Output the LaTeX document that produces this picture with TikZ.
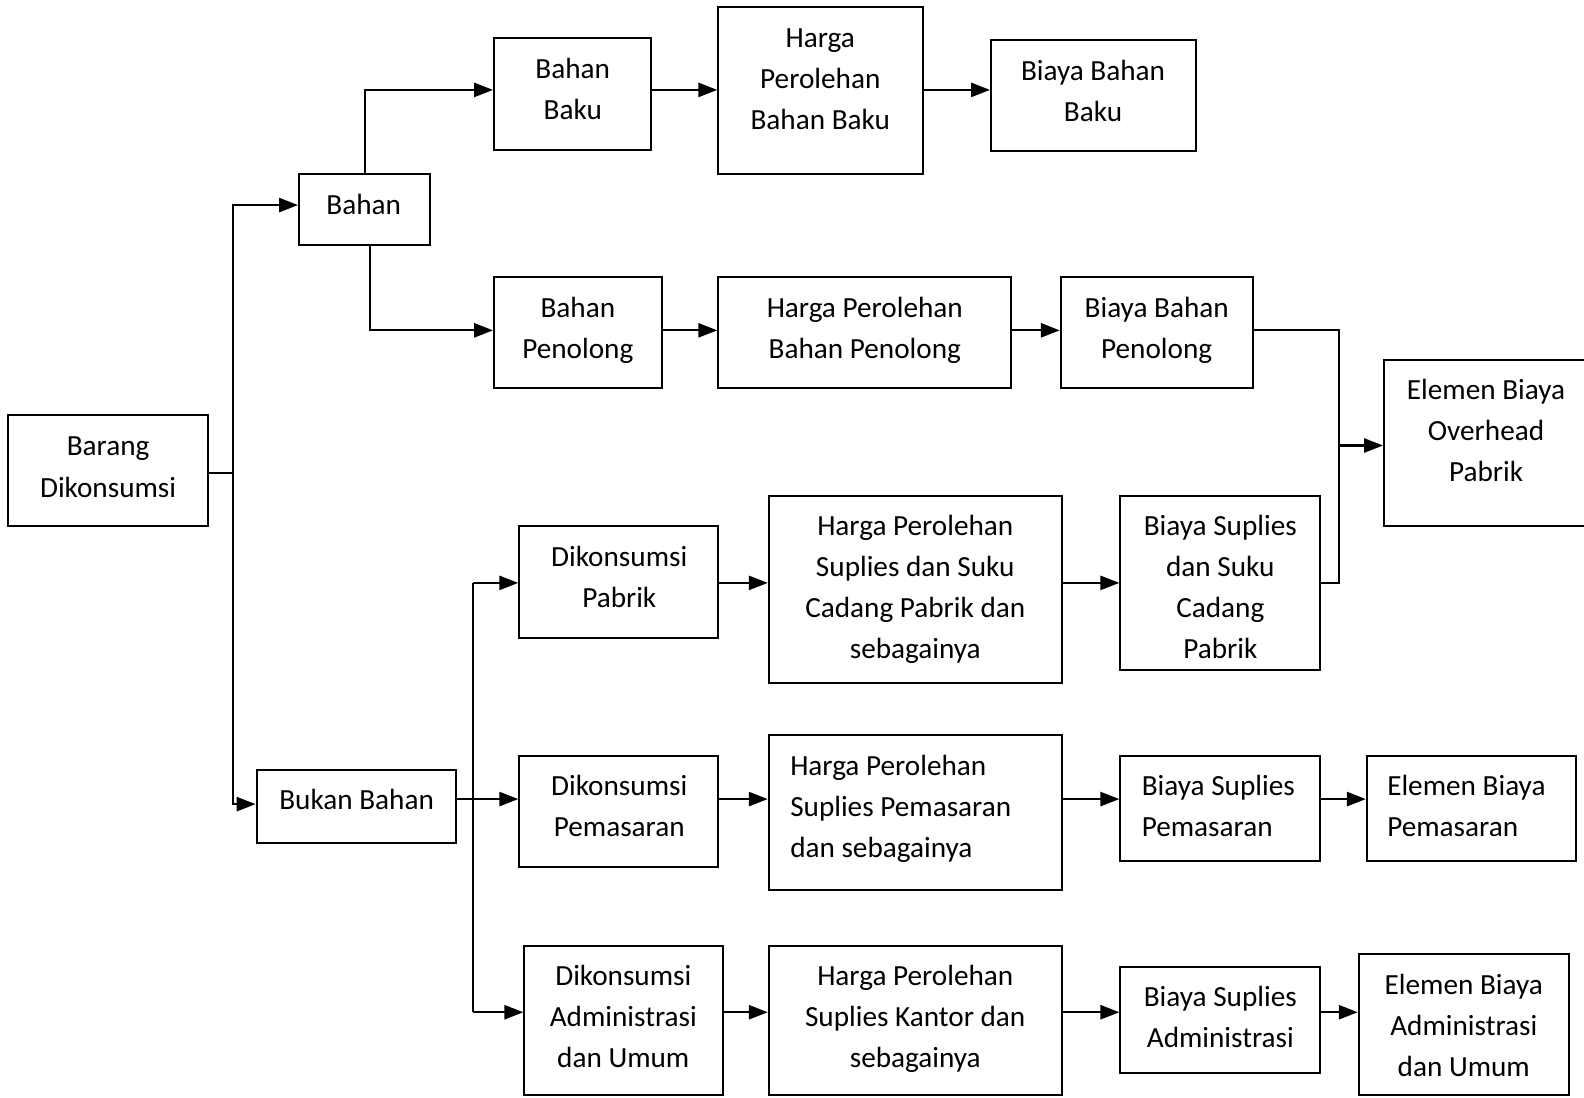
\documentclass[tikz,border=0pt]{standalone}
\usepackage{fontspec}
\setmainfont{Carlito}
\usetikzlibrary{arrows.meta,fit}
\newcommand{\bx}[5]{\node[box, fit={(#2,#3) (#4,#5)}] (#1) {};}
\begin{document}
\begin{tikzpicture}[x=0.75pt,y=-0.75pt,
  box/.style={draw, line width=1.5pt, inner sep=0pt},
  txt/.style={font=\fontsize{21.7}{30.5}\selectfont, align=center, inner sep=0pt, anchor=base},
  txl/.style={txt, align=left, anchor=base west},
  arr/.style={line width=1.5pt, -{Triangle[length=14pt,width=10.5pt]}},
  ln/.style={line width=1.5pt}]
\useasboundingbox (0,0) rectangle (1568,1086);
% boxes
\bx{barang}{8}{411}{206}{521}
\bx{bahan}{296}{172}{426}{243}
\bx{bukan}{254}{762}{451}{834}
\bx{bbaku}{489}{38}{644}{148}
\bx{hbb}{711}{7}{914}{172}
\bx{biayabb}{981}{40}{1184}{149}
\bx{bpen}{489}{274}{655}{384}
\bx{hpen}{711}{274}{1001}{384}
\bx{bbpen}{1050}{274}{1240}{384}
\bx{ovh}{1370}{356}{1574}{521}
\bx{dpab}{514}{521}{711}{632}
\bx{hsuku}{761}{491}{1051}{676}
\bx{bsuku}{1109}{491}{1307}{663}
\bx{dpem}{514}{748}{711}{858}
\bx{hpem}{761}{728}{1051}{881}
\bx{bsp}{1109}{748}{1307}{852}
\bx{ebp}{1353}{748}{1560}{852}
\bx{dadm}{519}{936}{716}{1084}
\bx{hkan}{761}{936}{1051}{1084}
\bx{bsa}{1109}{957}{1307}{1062}
\bx{eba}{1345}{944}{1553}{1084}
% texts (y = baseline of the last line)
\node[txt] (t-barang) at (107,492) {Barang\\Dikonsumsi};
\node[txt] (t-bahan) at (360,212) {Bahan};
\node[txt] (t-bukan) at (353,801) {Bukan Bahan};
\node[txt] (t-bbaku) at (567,118) {Bahan\\Baku};
\node[txt] (t-hbb) at (812,128) {Harga\\Perolehan\\Bahan Baku};
\node[txt] (t-biayabb) at (1082,120) {Biaya Bahan\\Baku};
\node[txt] (t-bpen) at (572,355) {Bahan\\Penolong};
\node[txt] (t-hpen) at (856,355) {Harga Perolehan\\Bahan Penolong};
\node[txt] (t-bbpen) at (1145,355) {Biaya Bahan\\Penolong};
\node[txt] (t-ovh) at (1471,477) {Elemen Biaya\\Overhead\\Pabrik};
\node[txt] (t-dpab) at (613,601) {Dikonsumsi\\Pabrik};
\node[txt] (t-hsuku) at (906,652) {Harga Perolehan\\Suplies dan Suku\\Cadang Pabrik dan\\sebagainya};
\node[txt] (t-bsuku) at (1208,652) {Biaya Suplies\\dan Suku\\Cadang\\Pabrik};
\node[txt] (t-dpem) at (613,828) {Dikonsumsi\\Pemasaran};
\node[txl] (t-hpem) at (782,849) {Harga Perolehan\\Suplies Pemasaran\\dan sebagainya};
\node[txl] (t-bsp) at (1130,828) {Biaya Suplies\\Pemasaran};
\node[txl] (t-ebp) at (1373,828) {Elemen Biaya\\Pemasaran};
\node[txt] (t-dadm) at (617,1057) {Dikonsumsi\\Administrasi\\dan Umum};
\node[txt] (t-hkan) at (906,1057) {Harga Perolehan\\Suplies Kantor dan\\sebagainya};
\node[txt] (t-bsa) at (1208,1037) {Biaya Suplies\\Administrasi};
\node[txt] (t-eba) at (1449,1066) {Elemen Biaya\\Administrasi\\dan Umum};
% junction coordinates
\coordinate (ja) at (231,468);
\coordinate (jbtop) at (231,203);
\coordinate (jbbot) at (231,796);
\coordinate (jb) at (468,791);
\coordinate (jt) at (468,577);
\coordinate (jbot) at (468,1002);
\coordinate (jn) at (1325,441);
\coordinate (r1) at (0,89);
\coordinate (r2) at (0,327);
\coordinate (r5) at (0,1002);
\coordinate (bsx) at (366,0);
% connectors
\draw[ln] (barang.east |- ja) -- (ja);
\draw[arr] (jbbot) -- (jbtop) -- (bahan.west |- jbtop);
\draw[arr] (ja) -- (jbbot) -- (bukan.west |- jbbot);
\draw[arr] (bahan.north) |- (bbaku.west |- r1);
\draw[arr] (bahan.south -| bsx) |- (bpen.west |- r2);
\draw[arr] (bbaku.east |- r1) -- (hbb.west |- r1);
\draw[arr] (hbb.east |- r1) -- (biayabb.west |- r1);
\draw[arr] (bpen.east |- r2) -- (hpen.west |- r2);
\draw[arr] (hpen.east |- r2) -- (bbpen.west |- r2);
\draw[ln] (bbpen.east |- r2) -| (jn) |- (bsuku.east |- jt);
\draw[arr] (jn) -- (ovh.west |- jn);
\draw[arr] (bukan.east |- jb) -- (dpem.west |- jb);
\draw[ln] (jt) -- (jbot);
\draw[arr] (jt) -- (dpab.west |- jt);
\draw[arr] (jbot) -- (dadm.west |- jbot);
\draw[arr] (dpab.east |- jt) -- (hsuku.west |- jt);
\draw[arr] (hsuku.east |- jt) -- (bsuku.west |- jt);
\draw[arr] (dpem.east |- jb) -- (hpem.west |- jb);
\draw[arr] (hpem.east |- jb) -- (bsp.west |- jb);
\draw[arr] (bsp.east |- jb) -- (ebp.west |- jb);
\draw[arr] (dadm.east |- r5) -- (hkan.west |- r5);
\draw[arr] (hkan.east |- r5) -- (bsa.west |- r5);
\draw[arr] (bsa.east |- r5) -- (eba.west |- r5);
\end{tikzpicture}
\end{document}
